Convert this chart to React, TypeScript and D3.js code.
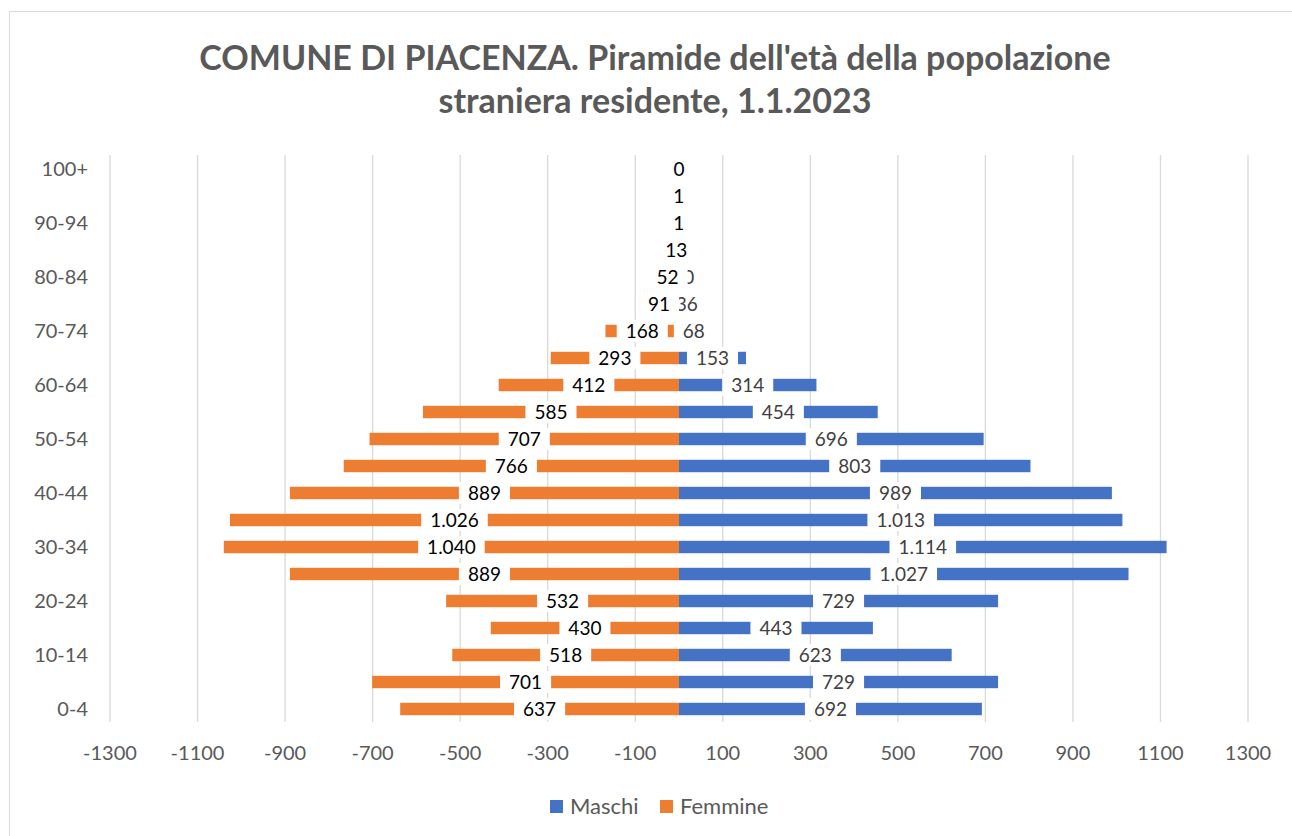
import React from "react";
import * as d3 from "d3";

const ageGroups = [
  "0-4", "5-9", "10-14", "15-19", "20-24", "25-29", "30-34", "35-39", "40-44",
  "45-49", "50-54", "55-59", "60-64", "65-69", "70-74", "75-79", "80-84",
  "85-89", "90-94", "95-99", "100+",
];
const maschi = [692, 729, 623, 443, 729, 1027, 1114, 1013, 989, 803, 696, 454, 314, 153, 68, 36, 20, 4, 0, 0, 0];
const femmine = [637, 701, 518, 430, 532, 889, 1040, 1026, 889, 766, 707, 585, 412, 293, 168, 91, 52, 13, 1, 1, 0];
const xTicks = [-1300, -1100, -900, -700, -500, -300, -100, 100, 300, 500, 700, 900, 1100, 1300];

const width = 1292;
const height = 836;
const blue = "#4472C4";
const orange = "#ED7D31";
const grey = "#595959";
const font = "Lato, 'Open Sans', sans-serif";

const fmt = (v: number) => d3.format(",")(v).replace(/,/g, ".");

let ctx: CanvasRenderingContext2D | null = null;
const textWidth = (s: string, size: number) => {
  if (!ctx) ctx = document.createElement("canvas").getContext("2d");
  if (!ctx) return s.length * size * 0.55;
  ctx.font = `${size}px Lato`;
  return ctx.measureText(s).width;
};

const App = () => {
  const x = d3.scaleLinear().domain([-1300, 1300]).range([110, 1248]);
  const y = d3
    .scaleBand()
    .domain([...ageGroups].reverse())
    .range([155.5, 722.5])
    .paddingInner(0.54)
    .paddingOuter(0.27);

  const bh = y.bandwidth();
  const labelSize = 19;

  const label = (v: number, i: number, side: number, color: string) => {
    const cx = x((side * v) / 2);
    const cy = (y(ageGroups[i]) as number) + bh / 2;
    const txt = fmt(v);
    const w = textWidth(txt, labelSize) + 18;
    return (
      <g key={`${side}-${i}`}>
        <rect x={cx - w / 2} y={cy - 11} width={w} height={22} fill="#fff" />
        <text
          x={cx}
          y={cy}
          dy="0.36em"
          textAnchor="middle"
          fontSize={labelSize}
          fill={color}
        >
          {txt}
        </text>
      </g>
    );
  };

  // the male labels of the oldest groups sit fully under the female ones
  const maleLabelIdx = maschi.map((_, i) => i).filter((i) => i <= 16);

  return (
    <svg
      width={width}
      height={height}
      style={{ position: "absolute", left: 0, top: 0, background: "#fff" }}
      fontFamily={font}
    >
      <rect x={9.5} y={11.5} width={1300} height={900} fill="#fff" stroke="#D9D9D9" />
      <text x={655} y={70} textAnchor="middle" fontSize={34} fontWeight="bold" fill={grey}>
        COMUNE DI PIACENZA. Piramide dell'età della popolazione
      </text>
      <text x={655} y={113} textAnchor="middle" fontSize={34} fontWeight="bold" fill={grey}>
        straniera residente, 1.1.2023
      </text>

      {xTicks.map((t) => (
        <g key={t}>
          <line x1={x(t)} x2={x(t)} y1={155} y2={722} stroke="#D9D9D9" strokeWidth={1.3} />
          <text x={x(t)} y={760} textAnchor="middle" fontSize={20} fill={grey}>
            {t}
          </text>
        </g>
      ))}

      {ageGroups.map((g, i) =>
        i % 2 === 0 ? (
          <text
            key={g}
            x={88}
            y={(y(g) as number) + bh / 2}
            dy="0.36em"
            textAnchor="end"
            fontSize={20}
            fill={grey}
          >
            {g}
          </text>
        ) : null
      )}

      {maschi.map((v, i) => (
        <rect key={`m${i}`} x={x(0)} y={y(ageGroups[i])} width={x(v) - x(0)} height={bh} fill={blue} />
      ))}
      {femmine.map((v, i) => (
        <rect key={`f${i}`} x={x(-v)} y={y(ageGroups[i])} width={x(0) - x(-v)} height={bh} fill={orange} />
      ))}
      {maleLabelIdx.map((i) => label(maschi[i], i, 1, "#404040"))}
      {femmine.map((v, i) => label(v, i, -1, "#000"))}

      <rect x={550} y={800} width={13} height={13} fill={blue} />
      <text x={570} y={814} fontSize={22} fill={grey}>Maschi</text>
      <rect x={660} y={800} width={13} height={13} fill={orange} />
      <text x={680} y={814} fontSize={22} fill={grey}>Femmine</text>
    </svg>
  );
};

export default App;
